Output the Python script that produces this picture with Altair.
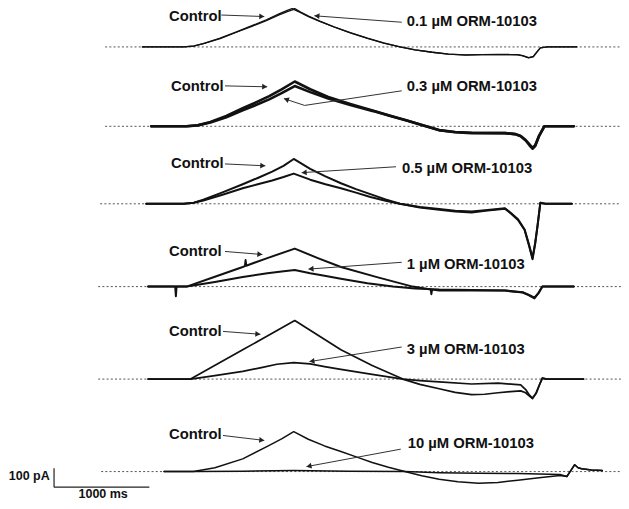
import math
import altair as alt
import pandas as pd

# ---------------- data (time in ms, current in pA, relative to each trace's own baseline) -------------
panel_labels = ["0.1 µM ORM-10103", "0.3 µM ORM-10103", "0.5 µM ORM-10103",
                "1 µM ORM-10103", "3 µM ORM-10103", "10 µM ORM-10103"]
control_label = "Control"

p1_t = [-60, 373, 480, 579, 755, 920, 1095, 1240, 1373, 1460, 1527, 1600, 1682, 1800, 1950, 2120, 2300,
        2470, 2641, 2800, 2981, 3150, 3331, 3500, 3671, 3800, 3877, 3930, 3990, 4040, 4080, 4114, 4186, 4495]
p1_control = [0, 0, 5, 18, 46, 78, 113, 143, 174, 192, 205, 184, 162, 136, 106, 75, 46,
              21, 0, -15, -28, -38, -42, -40, -39, -40, -41, -46, -56, -50, -25, -5, 0, 0]
p1_drug = [0, 0, 4, 17, 44, 76, 110, 139, 169, 186, 198, 181, 160, 135, 105, 74, 45,
           20, 0, -15, -28, -38, -43, -41, -40, -41, -42, -47, -58, -52, -26, -5, 0, 0]

p2_t = [33, 404, 520, 653, 820, 992, 1130, 1270, 1400, 1538, 1700, 1889, 2120, 2362, 2540, 2713, 2880,
        3053, 3220, 3393, 3560, 3743, 3850, 3908, 3960, 4000, 4032, 4060, 4100, 4156, 4464]
p2_control = [0, 0, 6, 23, 55, 95, 126, 159, 195, 236, 195, 154, 118, 82, 56, 31, 5,
              -21, -31, -36, -36, -36, -41, -51, -72, -95, -113, -100, -50, 0, 0]
p2_drug = [0, 0, 5, 20, 48, 84, 112, 142, 175, 212, 180, 146, 112, 80, 54, 30, 5,
           -20, -30, -34, -35, -36, -41, -52, -75, -100, -118, -104, -52, 0, 0]

p3_t = [-20, 373, 480, 579, 780, 992, 1150, 1301, 1420, 1527, 1700, 1860, 2022, 2180, 2331, 2490, 2641,
        2850, 3053, 3220, 3393, 3560, 3743, 3805, 3880, 3949, 3995, 4032, 4060, 4083, 4114, 4166, 4444]
p3_control = [0, 0, 6, 21, 60, 103, 136, 169, 200, 236, 184, 144, 108, 77, 51, 23, 0,
              -20, -31, -41, -46, -36, -26, -51, -85, -138, -220, -292, -210, -123, 5, 0, 0]
p3_drug = [0, 0, 5, 17, 48, 82, 103, 123, 141, 159, 127, 103, 82, 59, 36, 16, 0,
           -17, -27, -36, -41, -33, -23, -48, -82, -135, -215, -285, -205, -120, 5, 0, 0]

p4_control_t = [0, 284, 291, 298, 404, 700, 992, 1015, 1022, 1029, 1250, 1538, 1780, 2022, 2400, 2775,
                2964, 2971, 2978, 3053, 3400, 3743, 3929, 3990, 4052, 4095, 4135, 4464]
p4_control = [0, 0, -51, 0, 0, 52, 103, 108, 140, 110, 150, 200, 150, 103, 50, 0,
              -15, -40, -16, -21, -21, -21, -31, -45, -62, -35, 0, 0]
p4_drug_t = [0, 404, 700, 992, 1250, 1400, 1538, 1700, 1850, 2022, 2300, 2568, 2800, 3053, 3400, 3743,
             3929, 3990, 4052, 4095, 4135, 4464]
p4_drug = [0, 0, 24, 51, 70, 80, 87, 70, 57, 41, 18, 0, -10, -15, -18, -21,
           -30, -42, -58, -33, 0, 0]

p5_control_t = [0, 445, 992, 1538, 2022, 2350, 2672, 2850, 3053, 3220, 3393, 3530, 3671, 3800, 3908,
                3960, 4000, 4032, 4070, 4105, 4135, 4180, 4567]
p5_control = [0, 0, 154, 308, 154, 72, 0, -28, -51, -70, -82, -80, -72, -66, -62,
              -72, -90, -103, -75, -30, 5, 0, 0]
p5_drug_t = [0, 445, 700, 992, 1200, 1350, 1527, 1700, 1850, 2022, 2350, 2672, 2850, 3053, 3393, 3671,
             3908, 3960, 4000, 4032, 4070, 4105, 4135, 4180, 4567]
p5_drug = [0, 0, 18, 41, 62, 78, 87, 80, 66, 51, 25, 0, -8, -15, -26, -21,
           -31, -55, -85, -100, -73, -30, 5, 0, 0]

p6_control_t = [167, 476, 700, 992, 1250, 1400, 1527, 1680, 1850, 2022, 2190, 2350, 2520, 2692, 2870,
                3053, 3250, 3465, 3670, 3877, 4100, 4320, 4392, 4440, 4474, 4510, 4547, 4650, 4763]
p6_control = [0, 0, 20, 67, 133, 172, 210, 170, 135, 106, 76, 48, 23, 0, -22,
              -41, -54, -62, -57, -46, -33, -21, -26, 10, 36, 20, 15, 8, 5]
p6_drug_t = [167, 476, 1000, 1527, 2100, 2692, 3053, 3465, 3877, 4320, 4392, 4440, 4474, 4510, 4547, 4650, 4763]
p6_drug = [0, 0, 2, 5, 2, 0, -6, -9, -10, -15, -26, 10, 36, 20, 15, 8, 5]

# annotations (ms, pA above each panel's baseline)
control_text_t = [219, 240, 240, 219, 219, 219]
control_text_dy = [160, 208, 210, 180, 246, 190]
drug_text_t = [2713, 2713, 2662, 2713, 2713, 2723]
drug_text_dy = [130, 208, 185, 113, 154, 144]
control_arrow_t0 = [767, 806, 806, 806, 785, 785]
control_arrow_dy0 = [168, 213, 210, 185, 251, 190]
control_arrow_t1 = [1218, 1249, 1229, 1198, 1177, 1218]
control_arrow_dy1 = [160, 208, 200, 169, 236, 164]
drug_arrow_paths = [
    [(2660, 130), (1744, 164)],
    [(2660, 187), (1641, 110), (1424, 146)],
    [(2600, 195), (1610, 164)],
    [(2660, 128), (1682, 92)],
    [(2660, 169), (1692, 92)],
    [(2650, 118), (1661, 26)],
]
baseline_start_t = [-451, -451, -503, -524, -524, -493]
baseline_end_t = 4959

scalebar_ms = 1000
scalebar_pA = 100
scalebar_label_x = "1000 ms"
scalebar_label_y = "100 pA"

# ---------------- layout / style ----------------
X_MIN, X_MAX = -1470, 4960
Y_MIN, Y_MAX = -2565, 31
W, H = 613, 493
panel_offset = [-174, -592, -1000, -1436, -1923, -2410]
stroke_w = [1.3, 2.6, 2.0, 2.0, 1.7, 1.5]
scalebar_origin = (-987, -2492)
PX_PER_MS = W / (X_MAX - X_MIN)
PX_PER_PA = H / (Y_MAX - Y_MIN)

trace_sets = [
    (p1_t, p1_control, p1_t, p1_drug),
    (p2_t, p2_control, p2_t, p2_drug),
    (p3_t, p3_control, p3_t, p3_drug),
    (p4_control_t, p4_control, p4_drug_t, p4_drug),
    (p5_control_t, p5_control, p5_drug_t, p5_drug),
    (p6_control_t, p6_control, p6_drug_t, p6_drug),
]

trace_rows = []
for i, (ct, cv, dt, dv) in enumerate(trace_sets):
    off = panel_offset[i]
    for name, ts, vs in (("control", ct, cv), ("drug", dt, dv)):
        for t, v in zip(ts, vs):
            trace_rows.append(dict(key=f"{i}-{name}", t=t, y=v + off, w=stroke_w[i]))
traces = pd.DataFrame(trace_rows)

base_rows = [dict(t=baseline_start_t[i], t2=baseline_end_t, y=panel_offset[i]) for i in range(6)]
baselines = pd.DataFrame(base_rows)

seg_rows, head_rows, text_rows = [], [], []


def add_head(ta, ya, tb, yb):
    dx = (tb - ta) * PX_PER_MS
    dy = -(yb - ya) * PX_PER_PA
    L = math.hypot(dx, dy)
    ang = math.degrees(math.atan2(dy, dx)) % 360
    back = 2.5
    ct = tb - (dx / L) * back / PX_PER_MS
    cy = yb + (dy / L) * back / PX_PER_PA
    head_rows.append(dict(t=ct, y=cy, ang=ang))


for i in range(6):
    off = panel_offset[i]
    a0 = (control_arrow_t0[i], control_arrow_dy0[i] + off)
    a1 = (control_arrow_t1[i], control_arrow_dy1[i] + off)
    seg_rows.append(dict(t=a0[0], y=a0[1], t2=a1[0], y2=a1[1]))
    add_head(a0[0], a0[1], a1[0], a1[1])
    pts = [(t, dy + off) for t, dy in drug_arrow_paths[i]]
    for (ta, ya), (tb, yb) in zip(pts[:-1], pts[1:]):
        seg_rows.append(dict(t=ta, y=ya, t2=tb, y2=yb))
    add_head(pts[-2][0], pts[-2][1], pts[-1][0], pts[-1][1])
    text_rows.append(dict(t=control_text_t[i], y=control_text_dy[i] + off, label=control_label))
    text_rows.append(dict(t=drug_text_t[i], y=drug_text_dy[i] + off, label=panel_labels[i]))

segs = pd.DataFrame(seg_rows)
heads = pd.DataFrame(head_rows)
texts = pd.DataFrame(text_rows)

sx, sy = scalebar_origin
sb_lines = pd.DataFrame([
    dict(t=sx, t2=sx + scalebar_ms, y=sy, y2=sy),
    dict(t=sx, t2=sx, y=sy, y2=sy + scalebar_pA),
])
sb_text_y = pd.DataFrame([dict(t=sx - 45, y=sy + 58, label=scalebar_label_y)])
sb_text_x = pd.DataFrame([dict(t=sx + scalebar_ms / 2 + 15, y=sy - 36, label=scalebar_label_x)])

xs = alt.Scale(domain=[X_MIN, X_MAX], nice=False, zero=False)
ys = alt.Scale(domain=[Y_MIN, Y_MAX], nice=False, zero=False)
X = lambda: alt.X("t:Q", scale=xs, axis=None)
Y = lambda: alt.Y("y:Q", scale=ys, axis=None)

baseline_layer = alt.Chart(baselines).mark_rule(
    color="#555", strokeWidth=1, strokeDash=[2, 2.2]
).encode(x=X(), x2="t2:Q", y=Y())

trace_layer = alt.Chart(traces).mark_line(color="#111", strokeJoin="round", strokeCap="round").encode(
    x=X(), y=Y(), detail="key:N",
    strokeWidth=alt.StrokeWidth("w:Q", scale=None, legend=None),
    order="t:Q",
)

seg_layer = alt.Chart(segs).mark_rule(color="#333", strokeWidth=1).encode(
    x=X(), y=Y(), x2="t2:Q", y2="y2:Q")

head_layer = alt.Chart(heads).mark_point(
    shape="triangle-right", filled=True, size=34, color="#222", opacity=1, strokeWidth=0
).encode(x=X(), y=Y(), angle=alt.Angle("ang:Q", scale=None))

text_layer = alt.Chart(texts).mark_text(
    align="left", baseline="middle", font="Liberation Sans", fontWeight="bold",
    fontSize=14.8, color="#111"
).encode(x=X(), y=Y(), text="label:N")

sb_layer = alt.Chart(sb_lines).mark_rule(color="#222", strokeWidth=1.2).encode(
    x=X(), y=Y(), x2="t2:Q", y2="y2:Q")
sb_ty = alt.Chart(sb_text_y).mark_text(
    align="right", baseline="middle", font="Liberation Sans", fontWeight="bold",
    fontSize=12.5, color="#111").encode(x=X(), y=Y(), text="label:N")
sb_tx = alt.Chart(sb_text_x).mark_text(
    align="center", baseline="middle", font="Liberation Sans", fontWeight="bold",
    fontSize=12.5, color="#111").encode(x=X(), y=Y(), text="label:N")

chart = alt.layer(
    baseline_layer, trace_layer, seg_layer, head_layer, text_layer, sb_layer, sb_ty, sb_tx
).properties(
    width=W, height=H, autosize=alt.AutoSizeParams(type="none"), padding=0, background="white"
).configure_view(stroke=None)

chart.save("out.html", embed_options={"renderer": "svg", "actions": False})
